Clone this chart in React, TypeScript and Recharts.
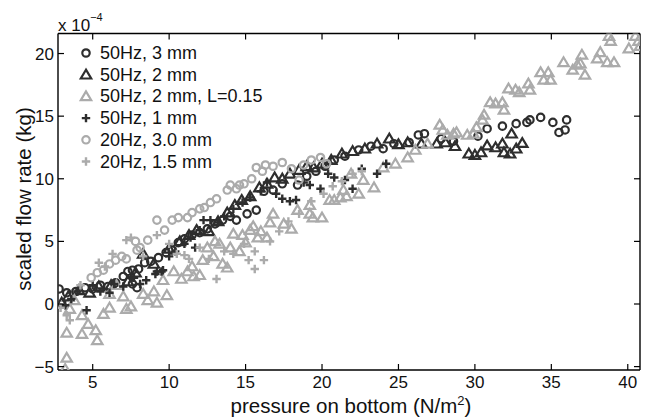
import { ScatterChart, Scatter, XAxis, YAxis, Legend } from "recharts";

const DARK = "#2e2e2e";
const LIGHT = "#ababab";
const FONT = "'Liberation Sans', Arial, Helvetica, sans-serif";

const xTicks = [5, 10, 15, 20, 25, 30, 35, 40];
const yTicks = [-5, 0, 5, 10, 15, 20];

// 50Hz, 3 mm
const hz50mm3 = [
  [2.8, 1.2], [3.3, 0.9], [3.9, 1.0], [4.5, 1.3], [5.0, 1.2], [5.5, 1.5], [6.0, 1.4], [6.5, 1.7],
  [7.0, 2.2], [7.3, 2.6], [7.6, 2.7], [7.6, 1.6], [7.9, 1.3], [8.0, 2.8], [8.4, 3.3], [8.8, 3.4],
  [9.3, 3.7], [9.8, 4.1], [10.2, 4.3], [10.6, 4.9], [11.0, 5.2], [11.5, 5.5], [12.0, 5.7], [12.5, 6.0],
  [13.0, 6.4], [13.5, 6.7], [14.0, 7.0], [14.4, 6.7], [15.1, 7.2], [15.7, 7.5], [16.2, 9.0], [16.8, 9.1],
  [17.4, 9.6], [18.4, 9.5], [19.0, 10.2], [19.6, 10.6], [20.2, 11.0], [20.8, 11.5], [21.5, 11.8],
  [22.4, 12.3], [23.2, 12.6], [24.0, 12.4], [24.7, 12.8], [25.7, 12.9], [26.3, 13.5], [26.7, 13.6],
  [27.8, 13.2], [28.6, 13.0], [30.2, 13.4], [30.8, 14.0], [31.8, 14.2], [32.7, 14.4], [33.4, 14.5],
  [33.6, 14.7], [34.3, 14.9], [35.1, 14.5], [35.5, 13.7], [35.9, 13.9], [36.0, 14.7],
];

// 50Hz, 2 mm
const hz50mm2 = [
  [2.97, 0.1], [3.4, 0.6], [4.1, 1.1], [4.8, 0.9], [5.4, 1.4], [6.2, 1.5], [7.3, 1.8], [7.8, 2.5],
  [8.3, 4.0], [9.0, 3.2], [10.0, 4.4], [10.7, 5.0], [11.3, 5.5], [11.8, 5.9], [12.6, 5.8], [13.2, 6.6],
  [13.8, 7.3], [14.3, 7.9], [14.75, 8.3], [15.3, 8.6], [15.9, 9.3], [16.4, 9.6], [16.9, 10.1],
  [17.4, 10.0], [17.9, 10.4], [18.5, 10.7], [19.0, 11.0], [19.45, 10.9], [20.0, 11.2], [20.6, 11.5],
  [21.3, 12.0], [22.0, 12.2], [22.8, 12.4], [23.6, 12.8], [24.4, 13.2], [25.0, 12.75], [25.6, 12.9],
  [26.5, 12.8], [27.5, 12.8], [28.07, 12.9], [28.7, 12.6], [29.6, 12.0], [30.0, 11.9], [30.4, 12.1],
  [30.8, 12.65], [31.35, 12.5], [31.8, 12.8], [31.9, 12.1], [32.3, 12.0], [32.4, 13.6], [32.7, 12.4],
  [33.1, 12.85],
];

// 50Hz, 2 mm, L=0.15
const hz50mm2L = [
  [3.2, -5.2], [3.3, -4.3], [3.3, -2.3], [3.5, -0.4], [3.8, 0.3], [4.3, -2.4], [4.3, -0.9], [4.7, -1.6],
  [5.2, -2.1], [5.3, -2.9], [5.7, -0.8], [6.1, -0.3], [6.1, 0.8], [6.55, 1.5], [7.0, 0.6], [7.2, -0.4],
  [7.5, -0.2], [8.3, 0.8], [8.6, 0.3], [9.0, 1.0], [9.2, 0.1], [9.6, 1.9], [9.85, 0.7], [10.3, 2.6],
  [10.8, 2.0], [11.2, 2.6], [11.5, 3.0], [11.6, 2.2], [12.0, 2.3], [12.2, 3.5], [12.5, 4.5], [12.9, 3.8],
  [13.0, 5.0], [13.3, 4.8], [13.5, 3.2], [13.8, 2.9], [14.0, 4.5], [14.2, 5.6], [14.6, 4.2], [14.8, 5.5],
  [15.0, 4.9], [15.3, 5.9], [15.5, 6.2], [15.8, 5.3], [16.0, 5.8], [16.4, 5.3], [16.6, 6.5], [16.8, 7.2],
  [17.5, 6.4], [18.0, 6.0], [18.4, 7.5], [19.2, 7.9], [19.2, 7.2], [19.4, 6.9], [20.0, 6.9], [20.5, 8.3],
  [20.8, 8.3], [21.2, 8.5], [21.4, 9.1], [21.6, 8.6], [21.9, 10.4], [22.4, 8.8], [22.7, 9.9], [23.4, 9.3],
  [24.0, 10.9], [24.8, 11.2], [25.6, 11.7], [26.1, 12.3], [26.9, 12.8], [27.7, 14.3], [27.9, 13.9],
  [28.2, 13.5], [28.6, 13.6], [28.8, 13.7], [29.5, 13.5], [29.9, 13.6], [30.1, 14.1], [30.5, 14.7],
  [30.6, 15.1], [31.0, 16.1], [31.35, 16.0], [31.8, 16.1], [31.9, 15.5], [32.2, 17.2], [32.66, 17.1],
  [32.9, 16.9], [33.5, 17.6], [33.6, 17.1], [34.3, 18.5], [34.5, 17.9], [34.8, 18.5], [34.95, 17.9],
  [35.8, 19.3], [36.4, 18.7], [36.7, 19.1], [36.9, 19.2], [37.0, 19.9], [37.2, 18.3], [38.0, 19.6],
  [38.2, 20.1], [38.66, 19.3], [38.77, 21.4], [38.88, 21.0], [39.1, 19.3], [40.07, 20.4], [40.5, 21.4],
  [40.7, 21.0], [40.8, 20.6],
];

// 50Hz, 1 mm
const hz50mm1 = [
  [3.2, -0.1], [3.6, 0.4], [4.0, 1.0], [4.6, -0.5], [5.0, 1.5], [5.5, 1.0], [6.1, 0.9], [6.4, 1.6],
  [7.0, 1.4], [7.55, 2.1], [7.7, 2.1], [8.1, 1.6], [8.5, 1.9], [9.1, 2.4], [9.2, 2.6], [9.5, 2.6],
  [9.6, 2.7], [10.0, 3.8], [10.4, 4.2], [11.0, 4.8], [11.4, 5.3], [11.7, 4.5], [12.0, 5.9], [12.25, 6.7],
  [12.7, 6.7], [13.2, 6.5], [13.6, 7.0], [14.2, 7.6], [14.8, 8.1], [15.3, 8.5], [16.0, 9.0], [16.4, 9.7],
  [17.0, 8.8], [17.4, 8.4], [17.9, 8.2], [18.3, 8.3], [18.8, 9.7], [19.2, 9.5], [19.9, 9.2], [20.4, 10.4],
  [20.8, 10.1], [21.5, 9.9], [22.0, 9.2], [22.6, 10.8], [23.6, 10.4], [24.2, 11.2],
];

// 20Hz, 3.0 mm
const hz20mm3 = [
  [4.9, 2.1], [5.3, 2.5], [5.7, 2.7], [6.1, 3.2], [6.5, 3.5], [6.9, 3.8], [7.2, 3.6], [7.8, 5.0],
  [7.9, 4.3], [8.1, 4.5], [8.6, 5.1], [9.2, 6.7], [9.7, 5.9], [10.2, 6.7], [10.6, 6.9], [11.2, 6.9],
  [11.5, 7.3], [12.0, 7.6], [12.3, 7.7], [12.7, 8.1], [13.1, 8.4], [13.8, 9.1], [14.0, 9.5], [14.4, 9.2],
  [14.6, 9.5], [14.9, 9.6], [15.4, 10.0], [15.7, 10.9], [16.1, 10.6], [16.3, 11.1], [16.8, 11.0],
  [17.4, 11.3], [18.0, 10.8], [18.5, 9.9], [18.8, 11.1], [19.3, 11.5], [19.9, 11.7], [20.3, 11.2],
];

// 20Hz, 1.5 mm
const hz20mm15 = [
  [2.9, -0.3], [3.3, -0.9], [3.5, -1.3], [4.2, 1.5], [5.4, 3.3], [5.8, 3.0], [6.3, 4.0], [7.2, 5.1],
  [7.5, 5.3], [8.3, 3.8], [9.2, 5.5], [10.0, 4.8], [10.5, 4.0], [11.0, 3.9], [11.3, 3.6], [12.0, 4.5],
  [12.6, 3.6], [13.1, 2.0], [13.6, 4.2], [14.2, 4.0], [14.9, 4.8], [15.2, 3.5], [15.6, 4.2], [15.6, 2.8],
  [16.2, 3.5], [16.6, 5.0], [17.2, 5.8], [17.8, 6.6], [18.5, 7.2], [19.3, 8.2], [20.1, 8.8], [20.7, 9.4],
  [21.3, 9.8], [22.0, 10.4], [22.6, 10.6],
];

type Mark = "circle" | "triangle" | "plus";

const drawMark = (kind: Mark, color: string, cx: number, cy: number) => {
  if (kind === "circle")
    return <circle cx={cx} cy={cy} r={3.7} fill="none" stroke={color} strokeWidth={2.2} />;
  if (kind === "triangle")
    return (
      <polygon
        points={`${cx},${cy - 5} ${cx - 5.2},${cy + 3.8} ${cx + 5.2},${cy + 3.8}`}
        fill="none"
        stroke={color}
        strokeWidth={2.2}
      />
    );
  return (
    <path
      d={`M${cx - 4.2},${cy}H${cx + 4.2}M${cx},${cy - 4.2}V${cy + 4.2}`}
      stroke={color}
      strokeWidth={2.4}
    />
  );
};

const series = [
  { name: "50Hz, 3 mm", data: hz50mm3, mark: "circle" as Mark, color: DARK },
  { name: "50Hz, 2 mm", data: hz50mm2, mark: "triangle" as Mark, color: DARK },
  { name: "50Hz, 2 mm, L=0.15", data: hz50mm2L, mark: "triangle" as Mark, color: LIGHT },
  { name: "50Hz, 1 mm", data: hz50mm1, mark: "plus" as Mark, color: DARK },
  { name: "20Hz, 3.0 mm", data: hz20mm3, mark: "circle" as Mark, color: LIGHT },
  { name: "20Hz, 1.5 mm", data: hz20mm15, mark: "plus" as Mark, color: LIGHT },
];

const toPoints = (d: number[][]) => d.map(([x, y]) => ({ x, y }));

const tickText = { fontSize: 17, fontFamily: FONT, fill: "#111" };
const titleText = { fontSize: 20.5, fontFamily: FONT, fill: "#111" };

const BottomTick = ({ x, y, payload }: any) => (
  <g>
    <line x1={x} y1={y} x2={x} y2={y - 6} stroke="#000" strokeWidth={1.2} />
    <text x={x} y={y + 18} textAnchor="middle" {...tickText}>
      {payload.value}
    </text>
  </g>
);

const TopTick = ({ x, y }: any) => (
  <line x1={x} y1={y} x2={x} y2={y + 6} stroke="#000" strokeWidth={1.2} />
);

const LeftTick = ({ x, y, payload }: any) => (
  <g>
    <line x1={x} y1={y} x2={x + 6} y2={y} stroke="#000" strokeWidth={1.2} />
    <text x={x - 4} y={y + 6} textAnchor="end" {...tickText}>
      {payload.value < 0 ? `\u2212${Math.abs(payload.value)}` : payload.value}
    </text>
  </g>
);

const RightTick = ({ x, y }: any) => (
  <line x1={x} y1={y} x2={x - 6} y2={y} stroke="#000" strokeWidth={1.2} />
);

const renderLegend = () => (
  <svg width={240} height={135}>
    {series.map((s, i) => {
      const cy = 10 + i * 21.7;
      return (
        <g key={s.name}>
          {drawMark(s.mark, s.color, 10, cy)}
          <text x={24} y={cy + 6} fontSize={18} fontFamily={FONT} fill="#111">
            {s.name}
          </text>
        </g>
      );
    })}
  </svg>
);

export default function App() {
  const axisLine = { stroke: "#000", strokeWidth: 1.4 };
  return (
    <div style={{ position: "absolute", left: 0, top: 0, width: 647, height: 420, background: "#fff" }}>
      <ScatterChart width={647} height={420} margin={{ top: 32.5, right: 6, bottom: 49, left: 57 }}>
        <XAxis
          type="number"
          dataKey="x"
          xAxisId="b"
          domain={[2.73, 40.8]}
          allowDataOverflow
          ticks={xTicks}
          interval={0}
          height={1}
          tickSize={0}
          tickMargin={0}
          tickLine={false}
          axisLine={axisLine}
          tick={<BottomTick />}
          label={{
            content: () => (
              <text x={351} y={413} textAnchor="middle" {...titleText}>
                pressure on bottom (N/m
                <tspan dy={-8} fontSize={13}>2</tspan>
                <tspan dy={8}>)</tspan>
              </text>
            ),
          }}
        />
        <XAxis
          type="number"
          dataKey="x"
          xAxisId="t"
          orientation="top"
          domain={[2.73, 40.8]}
          allowDataOverflow
          ticks={xTicks}
          interval={0}
          height={1}
          tickSize={0}
          tickMargin={0}
          tickLine={false}
          axisLine={axisLine}
          tick={<TopTick />}
          label={{
            content: () => (
              <text x={58} y={31} {...tickText}>
                x 10
                <tspan dy={-10} fontSize={11}>{"\u22124"}</tspan>
              </text>
            ),
          }}
        />
        <YAxis
          type="number"
          dataKey="y"
          yAxisId="l"
          domain={[-5.27, 21.6]}
          allowDataOverflow
          ticks={yTicks}
          interval={0}
          width={1}
          tickSize={0}
          tickMargin={0}
          tickLine={false}
          axisLine={axisLine}
          tick={<LeftTick />}
          label={{
            content: () => (
              <text x={0} y={0} transform="translate(31,199) rotate(-90)" textAnchor="middle" {...titleText}>
                scaled flow rate (kg)
              </text>
            ),
          }}
        />
        <YAxis
          type="number"
          dataKey="y"
          yAxisId="r"
          orientation="right"
          domain={[-5.27, 21.6]}
          allowDataOverflow
          ticks={yTicks}
          interval={0}
          width={1}
          tickSize={0}
          tickMargin={0}
          tickLine={false}
          axisLine={axisLine}
          tick={<RightTick />}
        />
        <Legend
          layout="vertical"
          align="center"
          verticalAlign="middle"
          content={renderLegend}
          wrapperStyle={{ left: 76, top: 43, width: 240, height: 135 }}
        />
        {series.map((s) => (
          <Scatter
            key={s.name}
            name={s.name}
            data={toPoints(s.data)}
            xAxisId="b"
            yAxisId="l"
            isAnimationActive={false}
            shape={(p: any) => drawMark(s.mark, s.color, p.cx, p.cy)}
          />
        ))}
      </ScatterChart>
    </div>
  );
}
